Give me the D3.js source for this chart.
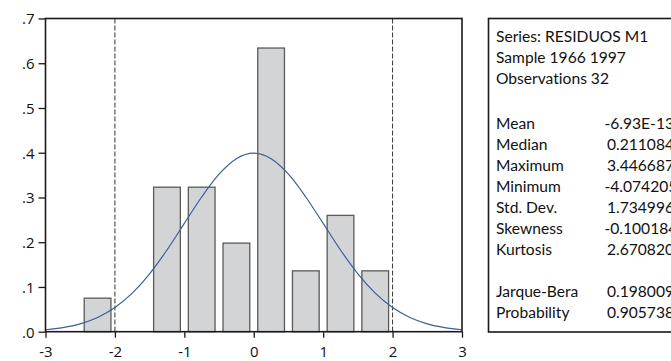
<!DOCTYPE html>
<html>
<head>
<meta charset="utf-8">
<style>
  body { margin: 0; background: #fff; }
  svg { display: block; }
</style>
</head>
<body>
<svg width="671" height="361"></svg>
<script src="https://d3js.org/d3.v7.min.js"></script>
<script>

// histogram of residuals (density), bins of width 0.5
var binStart = [-2.5, -1.5, -1.0, -0.5, 0.0, 0.5, 1.0, 1.5];
var binDensity = [0.075, 0.323, 0.323, 0.198, 0.634, 0.136, 0.260, 0.136];
var binWidth = 0.5;

// normal density curve, read at steps of 0.25
var curveX = [-3, -2.75, -2.5, -2.25, -2, -1.75, -1.5, -1.25, -1, -0.75, -0.5, -0.25, 0,
              0.25, 0.5, 0.75, 1, 1.25, 1.5, 1.75, 2, 2.25, 2.5, 2.75, 3];
var curveY = [0.0044, 0.0091, 0.0175, 0.0317, 0.0540, 0.0863, 0.1295, 0.1826, 0.2420, 0.3011, 0.3521, 0.3867, 0.3989,
              0.3867, 0.3521, 0.3011, 0.2420, 0.1826, 0.1295, 0.0863, 0.0540, 0.0317, 0.0175, 0.0091, 0.0044];

var refLines = [-2, 2];

var xTicks = [-3, -2, -1, 0, 1, 2, 3];
var yTicks = [0, 0.1, 0.2, 0.3, 0.4, 0.5, 0.6, 0.7];
var yTickLabels = [".0", ".1", ".2", ".3", ".4", ".5", ".6", ".7"];

var headerLines = ["Series: RESIDUOS M1", "Sample 1966 1997", "Observations 32"];
var statNames = ["Mean", "Median", "Maximum", "Minimum", "Std. Dev.", "Skewness", "Kurtosis"];
var statValues = ["-6.93E-13", "0.211084", "3.446687", "-4.074205", "1.734996", "-0.100184", "2.670820"];
var testNames = ["Jarque-Bera", "Probability"];
var testValues = ["0.198009", "0.905738"];

var svg = d3.select("svg"),
    margin = {top: 18.5, left: 45.5},
    width = 416.5,
    height = 313.2;

var g = svg.append("g").attr("transform", "translate(" + margin.left + "," + margin.top + ")");

var x = d3.scaleLinear().domain([-3, 3]).range([0, width]);
var y = d3.scaleLinear().domain([0, 0.7]).range([height, 0]);

// bars
var inset = 0.115;
g.append("g")
  .selectAll("rect")
  .data(binStart)
  .enter().append("rect")
    .attr("x", function(d) { return x(d + binWidth * inset); })
    .attr("y", function(d, i) { return y(binDensity[i]); })
    .attr("width", function(d) { return x(d + binWidth * (1 - inset)) - x(d + binWidth * inset); })
    .attr("height", function(d, i) { return height - y(binDensity[i]); })
    .attr("fill", "#d3d4d6")
    .attr("stroke", "#5a5a5a")
    .attr("stroke-width", 1.3);

// dashed reference lines
g.append("g")
  .selectAll("line")
  .data(refLines)
  .enter().append("line")
    .attr("x1", function(d) { return x(d); })
    .attr("x2", function(d) { return x(d); })
    .attr("y1", 0)
    .attr("y2", height)
    .attr("stroke", "#333")
    .attr("stroke-width", 1)
    .attr("stroke-dasharray", "5,2");

// normal curve
var line = d3.line()
    .x(function(d, i) { return x(curveX[i]); })
    .y(function(d) { return y(d); })
    .curve(d3.curveMonotoneX);

g.append("path")
    .datum(curveY)
    .attr("d", line)
    .attr("fill", "none")
    .attr("stroke", "#3b5f96")
    .attr("stroke-width", 1.2);

// frame
g.append("rect")
    .attr("width", width)
    .attr("height", height)
    .attr("fill", "none")
    .attr("stroke", "#1a1a1a")
    .attr("stroke-width", 1.6);

// axes
var xAxis = g.append("g")
    .attr("transform", "translate(0," + height + ")")
    .call(d3.axisBottom(x).tickValues(xTicks).tickSize(6).tickPadding(8.5)
      .tickFormat(function(d) { return d < 0 ? "-" + Math.abs(d) : d; }));

var yAxis = g.append("g")
    .call(d3.axisLeft(y).tickValues(yTicks).tickSize(7).tickPadding(4)
      .tickFormat(function(d, i) { return yTickLabels[i]; }));

[xAxis, yAxis].forEach(function(a) {
  a.select(".domain").remove();
  a.selectAll(".tick line").attr("stroke", "#1a1a1a").attr("stroke-width", 1.3);
  a.selectAll(".tick text")
      .style("font-family", "'Open Sans', sans-serif")
      .style("font-size", "15px")
      .attr("fill", "#111");
});
yAxis.selectAll(".tick text").attr("dy", "0.36em");

// statistics box
var box = svg.append("g");

box.append("rect")
    .attr("x", 488.5)
    .attr("y", 18.5)
    .attr("width", 260)
    .attr("height", 313.5)
    .attr("fill", "none")
    .attr("stroke", "#1a1a1a")
    .attr("stroke-width", 1.6);

var labelX = 496, valueX = 605.5;
var headerY = [42, 62.5, 83.5];
box.selectAll(".hdr")
  .data(headerLines)
  .enter().append("text")
    .attr("class", "st")
    .attr("x", labelX)
    .attr("y", function(d, i) { return headerY[i]; })
    .text(function(d) { return d; });

var rows = statNames.map(function(n, i) { return {name: n, value: statValues[i], y: 128.5 + i * 21}; })
  .concat(testNames.map(function(n, i) { return {name: n, value: testValues[i], y: 296.5 + i * 21}; }));

var row = box.selectAll(".row")
  .data(rows)
  .enter().append("g");
row.append("text")
    .attr("class", "st")
    .attr("x", labelX)
    .attr("y", function(d) { return d.y; })
    .text(function(d) { return d.name; });
row.append("text")
    .attr("class", "st")
    .attr("x", function(d) { return d.value.charAt(0) === "-" ? valueX - 1 : valueX + 1.5; })
    .attr("y", function(d) { return d.y; })
    .text(function(d) { return d.value; });

box.selectAll(".st")
    .style("font-family", "Lato, sans-serif")
    .style("font-size", "15.6px")
    .style("font-variant-ligatures", "none")
    .attr("fill", "#111");

</script>
</body>
</html>
